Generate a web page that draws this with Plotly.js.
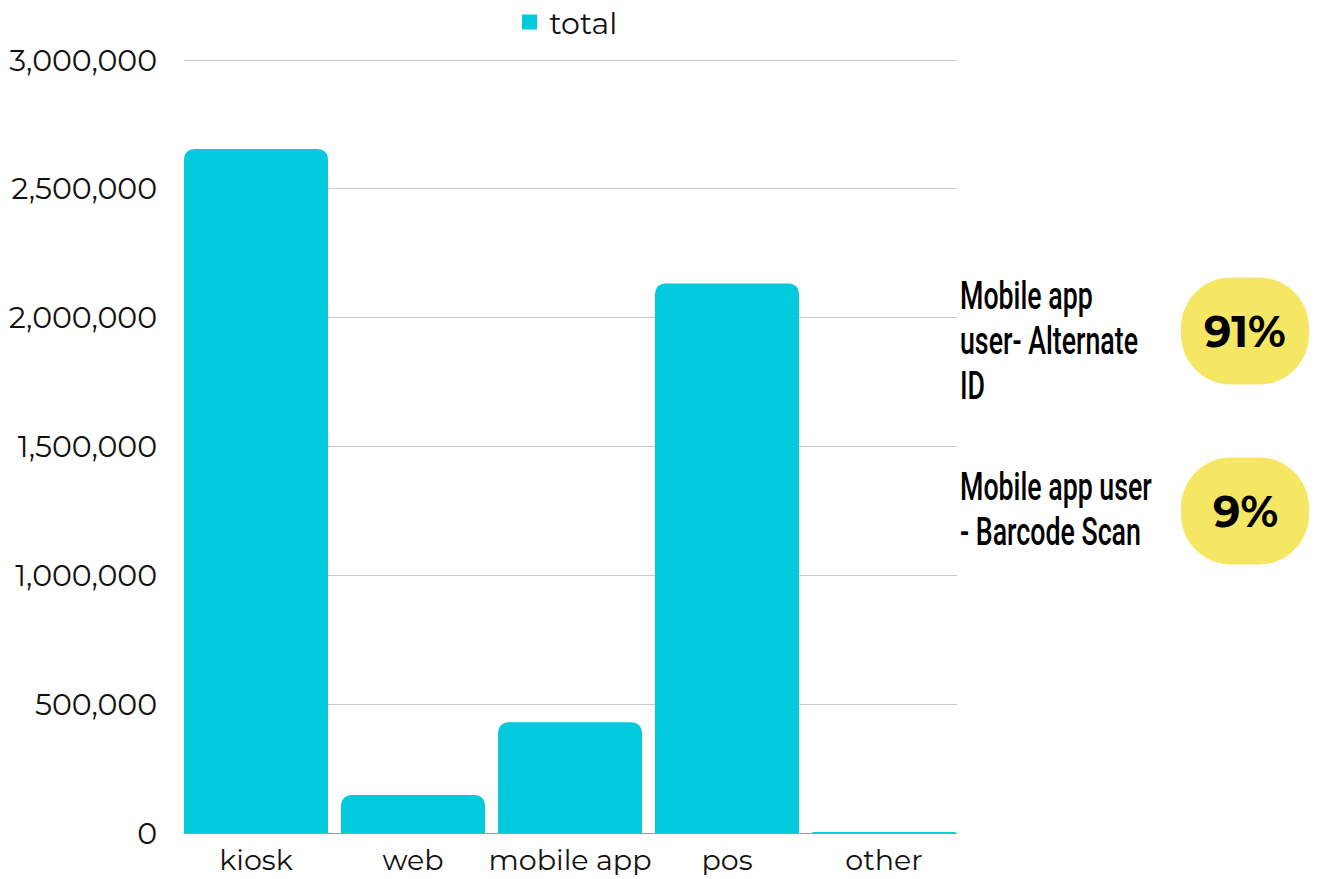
<!DOCTYPE html>
<html>
<head>
<meta charset="utf-8">
<script src="https://cdn.plot.ly/plotly-3.0.1.min.js"></script>
<style>html,body{margin:0;padding:0;background:#fff;}#chart{width:1319px;height:879px;}</style>
</head>
<body>
<div id="chart"></div>
<script>
const categories = ["kiosk", "web", "mobile app", "pos", "other"];
const totals = [2655000, 147000, 430000, 2133000, 4000];
const seriesName = "total";
const yTickValues = [0, 500000, 1000000, 1500000, 2000000, 2500000, 3000000];
const calloutLines = [["Mobile app", "user- Alternate", "ID"], ["Mobile app user", "- Barcode Scan"]];
const calloutPercents = ["91%", "9%"];

const mainFont = "Montserrat, 'Open Sans', Lato, sans-serif";
const narrowFont = "Roboto, 'Liberation Sans', Arial, sans-serif";

const trace = {
  type: "bar",
  x: categories,
  y: totals,
  name: seriesName,
  showlegend: true,
  marker: { color: "#00CADB", cornerradius: 10 },
  hoverinfo: "x+y"
};

function pill(w, h, r) {
  const hw = w / 2, hh = h / 2, k = 0.5523 * r;
  return `M ${-hw + r} ${-hh} L ${hw - r} ${-hh} ` +
    `C ${hw - r + k} ${-hh} ${hw} ${-hh + r - k} ${hw} ${-hh + r} ` +
    `L ${hw} ${hh - r} ` +
    `C ${hw} ${hh - r + k} ${hw - r + k} ${hh} ${hw - r} ${hh} ` +
    `L ${-hw + r} ${hh} ` +
    `C ${-hw + r - k} ${hh} ${-hw} ${hh - r + k} ${-hw} ${hh - r} ` +
    `L ${-hw} ${-hh + r} ` +
    `C ${-hw} ${-hh + r - k} ${-hw + r - k} ${-hh} ${-hw + r} ${-hh} Z`;
}

// pixel geometry
const W = 1319, H = 879;
const L = 184, R = 957, T = 60, B = 833, MT = 0, HEAD = 2;
const paperH = B - MT;
const px = x => (x - L) / (R - L);
const py = y => (B - y) / paperH;

const pillCentersY = [331, 511];
const pillCenterX = 1245;
const lineCenters = [[296, 341, 386], [487, 532]];

const shapes = pillCentersY.map(cy => ({
  type: "path",
  xref: "paper", yref: "paper",
  xsizemode: "pixel", ysizemode: "pixel",
  xanchor: px(pillCenterX), yanchor: py(cy),
  path: pill(128, 107, 50),
  fillcolor: "#F5E663",
  line: { width: 0 },
  layer: "below"
}));

const annotations = [];
calloutPercents.forEach((p, i) => {
  annotations.push({
    xref: "paper", yref: "paper",
    x: px(pillCenterX), y: py(pillCentersY[i]),
    xanchor: "center", yanchor: "middle",
    text: "<b>" + p + "</b>",
    showarrow: false,
    font: { family: mainFont, size: 43, color: "#000" }
  });
});
calloutLines.forEach((lines, i) => {
  lines.forEach((ln, j) => {
    annotations.push({
      xref: "paper", yref: "paper",
      x: px(959), y: py(lineCenters[i][j]),
      xanchor: "left", yanchor: "middle", align: "left",
      text: ln,
      showarrow: false,
      borderpad: 0,
      font: { family: narrowFont, size: 38, color: "#000", weight: 500 }
    });
  });
});

const layout = {
  width: W, height: H,
  margin: { l: L, r: W - R, t: MT, b: H - B, pad: 0 },
  paper_bgcolor: "#fff",
  plot_bgcolor: "#fff",
  bargap: 0.083,
  font: { family: mainFont, color: "#111" },
  showlegend: true,
  legend: {
    orientation: "h",
    x: px(566), xanchor: "center",
    y: 1, yanchor: "top",
    font: { family: mainFont, size: 30, color: "#111" },
    itemwidth: 30
  },
  xaxis: {
    type: "category",
    range: [-0.4586, 4.465],
    tickfont: { family: mainFont, size: 28.5, color: "#111" },
    ticks: "outside", ticklen: 2, tickcolor: "rgba(0,0,0,0)",
    showgrid: false,
    showline: false,
    automargin: false
  },
  yaxis: {
    domain: [0, (B - T + HEAD) / paperH],
    range: [0, 3000000 * (B - T + HEAD) / (B - T)],
    tickvals: yTickValues,
    tickformat: ",d",
    tickfont: { family: mainFont, size: 30, color: "#111" },
    ticks: "outside", ticklen: 20, tickcolor: "rgba(0,0,0,0)",
    showgrid: true, gridcolor: "#C8C8C8", gridwidth: 1,
    zeroline: true, zerolinecolor: "#9A9A9A", zerolinewidth: 1,
    showline: false,
    automargin: false
  },
  shapes: shapes,
  annotations: annotations
};

Plotly.newPlot("chart", [trace], layout, { displayModeBar: false, staticPlot: true }).then(gd => {
  // condense the callout label text horizontally, anchored at its left edge
  const texts = Array.from(gd.querySelectorAll(".annotation-text"))
    .filter(t => calloutLines.some(ls => ls.includes(t.textContent)));
  const ref = texts.find(t => t.textContent === "user- Alternate");
  const s = ref ? Math.min(1, 178 / ref.getBBox().width) : 0.66;
  texts.forEach(t => {
    const x0 = t.getBBox().x;
    t.setAttribute("transform", `translate(${x0},0) scale(${s},1) translate(${-x0},0)`);
  });
  // larger square legend symbol
  gd.querySelectorAll(".legendpoints path").forEach(p => {
    p.setAttribute("d", "M-7.5,-7.5H7.5V7.5H-7.5Z");
  });
  // nudge legend up slightly
  const lg = gd.querySelector("g.legend");
  if (lg) {
    const m = /translate\(([-\d.]+)[ ,]+([-\d.]+)\)/.exec(lg.getAttribute("transform") || "");
    if (m) lg.setAttribute("transform", `translate(${m[1]},${parseFloat(m[2]) - 4})`);
  }
});
</script>
</body>
</html>
